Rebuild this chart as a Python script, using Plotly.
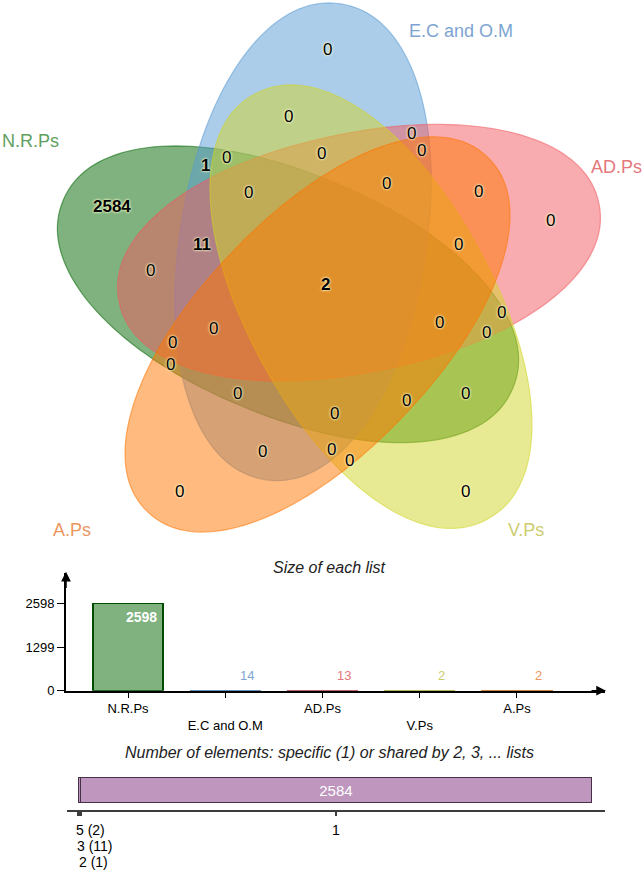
import numpy as np
import plotly.graph_objects as go

W, H = 644, 877

# ---------------- data ----------------
list_names = ["N.R.Ps", "E.C and O.M", "AD.Ps", "V.Ps", "A.Ps"]
list_sizes = [2598, 14, 13, 2, 2]

# counts of the 31 regions of the 5-set Venn diagram
venn_counts = [2584, 1, 0, 0, 11, 0, 0, 0, 0, 0, 0, 0, 0, 0, 2, 0,
               0, 0, 0, 0, 0, 0, 0, 0, 0, 0, 0, 0, 0, 0, 0]

degree_names = ["5", "3", "2", "1"]
degree_counts = [2, 11, 1, 2584]

title_sizes = "Size of each list"
title_degrees = "Number of elements: specific (1) or shared by 2, 3, ... lists"

# ---------------- layout / style ----------------
# label positions of the regions (pixel layout of the diagram)
venn_label_xy = [(112, 208), (205, 167), (226, 159), (248, 194), (202, 247), (150, 273),
                 (288, 118), (327, 50), (411, 135), (421, 152), (386, 185), (478, 193),
                 (550, 223), (458, 247), (325, 287), (321, 155), (213, 332), (172, 346),
                 (170, 368), (237, 397), (262, 456), (179, 496), (439, 325), (501, 315),
                 (486, 336), (465, 397), (406, 404), (334, 417), (331, 454), (349, 465),
                 (465, 496)]

# ellipse geometry: cx, cy, semi-major, semi-minor, angle (deg, screen coords)
ellipse_geo = {
    "N.R.Ps": (288, 297, 244, 122, 23),
    "E.C and O.M": (303, 244, 243, 123, 99),
    "AD.Ps": (359, 255, 245, 120.5, 168.2),
    "V.Ps": (371, 309.5, 244, 122.5, 61.6),
    "A.Ps": (317.5, 337.5, 246.8, 119, 133.3),
}
SUPER_N = 2.1
base_rgb = {
    "N.R.Ps": (0, 102, 0),
    "E.C and O.M": (90, 155, 212),
    "AD.Ps": (241, 90, 96),
    "V.Ps": (210, 214, 40),
    "A.Ps": (255, 117, 0),
}
label_rgb = {
    "N.R.Ps": "rgb(95,160,95)",
    "E.C and O.M": "rgb(125,165,210)",
    "AD.Ps": "rgb(228,120,125)",
    "V.Ps": "rgb(205,205,110)",
    "A.Ps": "rgb(235,150,95)",
}
set_label_xy = {
    "N.R.Ps": (30, 142),
    "E.C and O.M": (461, 31),
    "AD.Ps": (616, 169),
    "V.Ps": (526, 535),
    "A.Ps": (72, 535),
}
draw_order = ["N.R.Ps", "E.C and O.M", "AD.Ps", "V.Ps", "A.Ps"]

FONT = "Liberation Sans, Arial, sans-serif"
NARROW = "Liberation Sans Narrow, Arial Narrow, Liberation Sans, Arial, sans-serif"


def rgba(c, a):
    return "rgba(%d,%d,%d,%s)" % (c[0], c[1], c[2], a)


def dark(c, f=0.6):
    return "rgb(%d,%d,%d)" % tuple(int(v * f) for v in c)


def ellipse_path(cx, cy, a, b, ang, n=SUPER_N, npts=160):
    t = np.linspace(0, 2 * np.pi, npts, endpoint=False)
    th = np.deg2rad(ang)
    c, s = np.cos(t), np.sin(t)
    u = a * np.sign(c) * np.abs(c) ** (2.0 / n)
    v = b * np.sign(s) * np.abs(s) ** (2.0 / n)
    xs = cx + u * np.cos(th) - v * np.sin(th)
    ys = cy + u * np.sin(th) + v * np.cos(th)
    pts = ["%.2f,%.2f" % (x, y) for x, y in zip(xs, ys)]
    return "M " + " L ".join(pts) + " Z"


fig = go.Figure()

# ---------------- Venn diagram ----------------
shapes = []
for name in draw_order:
    cx, cy, a, b, ang = ellipse_geo[name]
    shapes.append(dict(type="path", xref="x", yref="y",
                       path=ellipse_path(cx, cy, a, b, ang),
                       fillcolor=rgba(base_rgb[name], 0.5),
                       line=dict(color=rgba(base_rgb[name], 0.55), width=1.2),
                       layer="above"))

annotations = []
for cnt, (lx, ly) in zip(venn_counts, venn_label_xy):
    annotations.append(dict(
        x=lx, y=ly, xref="x", yref="y", text=str(cnt), showarrow=False,
        xanchor="center", yanchor="middle",
        font=dict(family=FONT, size=17, color="black",
                  weight="bold" if cnt > 0 else "normal",
                  shadow="0px 0px 2px #ffffc8, 0px 0px 3px #ffffc8")))

for name in list_names:
    lx, ly = set_label_xy[name]
    annotations.append(dict(x=lx, y=ly, xref="x", yref="y", text=name, showarrow=False,
                            xanchor="center", yanchor="middle",
                            font=dict(family=FONT, size=18, color=label_rgb[name])))

# titles
annotations.append(dict(x=329, y=573, xref="x", yref="y", text=title_sizes, showarrow=False,
                        xanchor="center", yanchor="middle",
                        font=dict(family=FONT, size=16, color="#222", style="italic")))
annotations.append(dict(x=329, y=759, xref="x", yref="y", text=title_degrees, showarrow=False,
                        xanchor="center", yanchor="middle",
                        font=dict(family=FONT, size=16, color="#222", style="italic")))

# axis arrowheads for the size chart
annotations.append(dict(x=606, y=697, ax=590, ay=697, xref="x", yref="y", axref="x", ayref="y",
                        text="", showarrow=True, arrowhead=2, arrowsize=1.3, arrowwidth=1.5,
                        arrowcolor="black"))
annotations.append(dict(x=66, y=577, ax=66, ay=595, xref="x", yref="y", axref="x", ayref="y",
                        text="", showarrow=True, arrowhead=2, arrowsize=1.3, arrowwidth=1.5,
                        arrowcolor="black"))

# ---------------- size of each list ----------------
fig.add_trace(go.Bar(
    x=list_names, y=list_sizes, xaxis="x2", yaxis="y2", width=0.72,
    marker=dict(color=[rgba(base_rgb[n], 0.5) for n in list_names],
                line=dict(color=[dark(base_rgb[n], 0.75) for n in list_names], width=1.3)),
    showlegend=False, hoverinfo="x+y"))

for i, (n, v) in enumerate(zip(list_names, list_sizes)):
    if i == 0:
        annotations.append(dict(x=n, y=v, xref="x2", yref="y2", text=str(v), showarrow=False,
                                xanchor="center", yanchor="top", xshift=13, yshift=-4,
                                font=dict(family=NARROW, size=14, color="white", weight="bold")))
    else:
        annotations.append(dict(x=n, y=v, xref="x2", yref="y2", text=str(v), showarrow=False,
                                xanchor="center", yanchor="middle", xshift=22, yshift=15,
                                font=dict(family=NARROW, size=13, color=label_rgb[n])))

# ---------------- number of elements by degree ----------------
total = sum(degree_counts)
starts = np.concatenate([[0], np.cumsum(degree_counts)[:-1]])
centers = starts + np.array(degree_counts) / 2.0
for d, c in zip(degree_names, degree_counts):
    big = c / total > 0.1
    fig.add_trace(go.Bar(
        y=[19.5], x=[c], orientation="h", xaxis="x3", yaxis="y3", width=25,
        marker=dict(color="rgb(190,150,190)", line=dict(color="rgb(70,50,70)", width=1)),
        text=[str(c) if big else ""], textposition="inside", insidetextanchor="middle",
        textfont=dict(family=NARROW, size=15, color="white"),
        showlegend=False, name=d, hoverinfo="x+name"))

k = 0
for d, c, ctr in zip(degree_names, degree_counts, centers):
    big = c / total > 0.1
    if big:
        annotations.append(dict(x=ctr, y=0, xref="x3", yref="y3", text=d, showarrow=False,
                                xanchor="center", yanchor="top", yshift=-10,
                                font=dict(family=NARROW, size=14, color="black")))
    else:
        annotations.append(dict(x=ctr, y=0, xref="x3", yref="y3", text="%s (%d)" % (d, c),
                                showarrow=False, xanchor="left", yanchor="top",
                                xshift=-4, yshift=-10 - 16 * k,
                                font=dict(family=NARROW, size=14, color="black")))
        k += 1

# ---------------- axes ----------------
def py(p):
    return 1 - p / H


fig.update_layout(
    width=W, height=H, margin=dict(l=0, r=0, t=0, b=0),
    paper_bgcolor="white", plot_bgcolor="rgba(0,0,0,0)",
    barmode="stack", shapes=shapes, annotations=annotations,
    xaxis=dict(domain=[0, 1], range=[0, W], visible=False, fixedrange=True),
    yaxis=dict(domain=[0, 1], range=[H, 0], visible=False, fixedrange=True),
    xaxis2=dict(domain=[66 / W, 605 / W], range=[-0.6375, 4.905], anchor="y2",
                showline=True, linecolor="black", linewidth=1.8,
                ticks="outside", ticklen=5, tickcolor="black", tickwidth=1,
                tickvals=list_names,
                ticktext=[n if i % 2 == 0 else "<br>" + n for i, n in enumerate(list_names)],
                tickfont=dict(family=NARROW, size=13, color="black"),
                showgrid=False, zeroline=False, fixedrange=True),
    yaxis2=dict(domain=[py(697), py(578)], range=[0, 3513], anchor="x2",
                showline=True, linecolor="black", linewidth=1.8,
                ticks="outside", ticklen=7, tickcolor="black",
                tickvals=[0, list_sizes[0] / 2, list_sizes[0]],
                ticktext=["0", str(int(list_sizes[0] / 2)), str(list_sizes[0])],
                tickfont=dict(family=NARROW, size=13, color="black"),
                showgrid=False, zeroline=False, fixedrange=True),
    xaxis3=dict(domain=[67 / W, 605 / W], range=[-55.7, 2668], anchor="y3",
                showline=True, linecolor="rgb(60,60,60)", linewidth=1.5,
                ticks="outside", ticklen=5, tickcolor="rgb(60,60,60)", tickwidth=1.5,
                tickvals=list(centers), ticktext=[""] * len(centers),
                showgrid=False, zeroline=False, fixedrange=True),
    yaxis3=dict(domain=[py(817), py(780)], range=[0, 37], anchor="x3", visible=False,
                fixedrange=True),
)

fig.write_html("out.html", config={"displayModeBar": False},
               post_script="document.body.style.margin='0';")
